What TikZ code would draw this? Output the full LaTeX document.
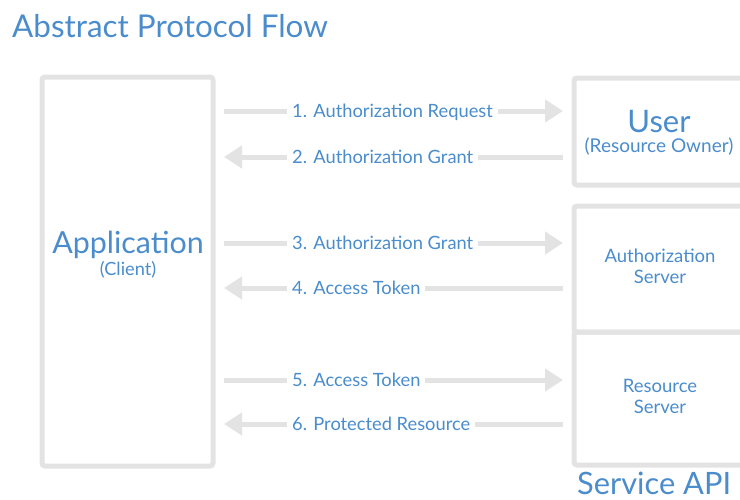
\documentclass[tikz,border=0pt]{standalone}
\usepackage{fontspec}
\setmainfont{Lato}
\usetikzlibrary{arrows.meta,calc}
\definecolor{oblue}{HTML}{4A8CCC}
\definecolor{ogray}{HTML}{E3E3E3}
\tikzset{
  panel/.style={draw=ogray,line width=5pt,rounded corners=3pt,rectangle,inner sep=0pt},
  flow/.style={draw=ogray,line width=5pt,-{Triangle[length=18pt,width=22pt]}},
  msg/.style={anchor=base west,fill=white,inner xsep=5pt,inner ysep=2pt,text=oblue,font=\fontsize{18.3}{21}\selectfont},
  big/.style={text=oblue,font=\fontsize{31}{34}\selectfont,inner sep=0pt},
  small/.style={text=oblue,font=\fontsize{18.5}{21}\selectfont,inner sep=0pt,align=center},
}
\begin{document}
\begin{tikzpicture}[x=1pt,y=1pt]
\useasboundingbox (0,0) rectangle (740,-499);
\clip (0,0) rectangle (740,-499);

% title
\node[big,anchor=base west,font=\fontsize{31.4}{34}\selectfont] (title) at (12,-37) {Abstract Protocol Flow};

% boxes
\node[panel,minimum width=171pt,minimum height=389pt] (app) at (127.5,-271.5) {};
\node[panel,minimum width=206pt,minimum height=107pt] (user) at (677,-131.5) {};
\node[panel,minimum width=206pt,minimum height=126pt] (auth) at (677,-269) {};
\node[panel,minimum width=206pt,minimum height=133pt] (res) at (677,-398.5) {};

% box texts
\node[big,anchor=base,font=\fontsize{30.4}{34}\selectfont] (apptxt) at (128,-253) {Application};
\node[small,anchor=base,font=\fontsize{18.2}{21}\selectfont] (appsub) at (128,-275) {(Client)};
\node[big,anchor=base] (usertxt) at (659,-132) {User};
\node[small,anchor=base,font=\fontsize{19}{21}\selectfont] (usersub) at (659,-152) {(Resource Owner)};
\node[small,anchor=base] (authtxt) at (660,-283) {Authorization\\Server};
\node[small,anchor=base] (restxt) at (660,-413) {Resource\\Server};
\node[big,anchor=base west,font=\fontsize{30.8}{34}\selectfont] (svc) at (577,-494) {Service API};

% message rows
\coordinate (r1) at (0,-111);
\coordinate (r2) at (0,-157);
\coordinate (r3) at (0,-243);
\coordinate (r4) at (0,-288);
\coordinate (r5) at (0,-380);
\coordinate (r6) at (0,-424);

\draw[flow] ($(app.east |- r1)+(8.5,0)$) -- ($(user.west |- r1)+(-8.5,0)$);
\draw[flow] ($(user.west |- r2)+(-8.5,0)$) -- ($(app.east |- r2)+(8.5,0)$);
\draw[flow] ($(app.east |- r3)+(8.5,0)$) -- ($(auth.west |- r3)+(-8.5,0)$);
\draw[flow] ($(auth.west |- r4)+(-8.5,0)$) -- ($(app.east |- r4)+(8.5,0)$);
\draw[flow] ($(app.east |- r5)+(8.5,0)$) -- ($(res.west |- r5)+(-8.5,0)$);
\draw[flow] ($(res.west |- r6)+(-8.5,0)$) -- ($(app.east |- r6)+(8.5,0)$);

\node[msg] (m1) at ($(287,0 |- r1)+(0,-6)$) {1. Authorization Request};
\node[msg] (m2) at ($(287,0 |- r2)+(0,-6)$) {2. Authorization Grant};
\node[msg] (m3) at ($(287,0 |- r3)+(0,-6)$) {3. Authorization Grant};
\node[msg] (m4) at ($(287,0 |- r4)+(0,-6)$) {4. Access Token};
\node[msg] (m5) at ($(287,0 |- r5)+(0,-6)$) {5. Access Token};
\node[msg] (m6) at ($(287,0 |- r6)+(0,-6)$) {6. Protected Resource};
\end{tikzpicture}
\end{document}
